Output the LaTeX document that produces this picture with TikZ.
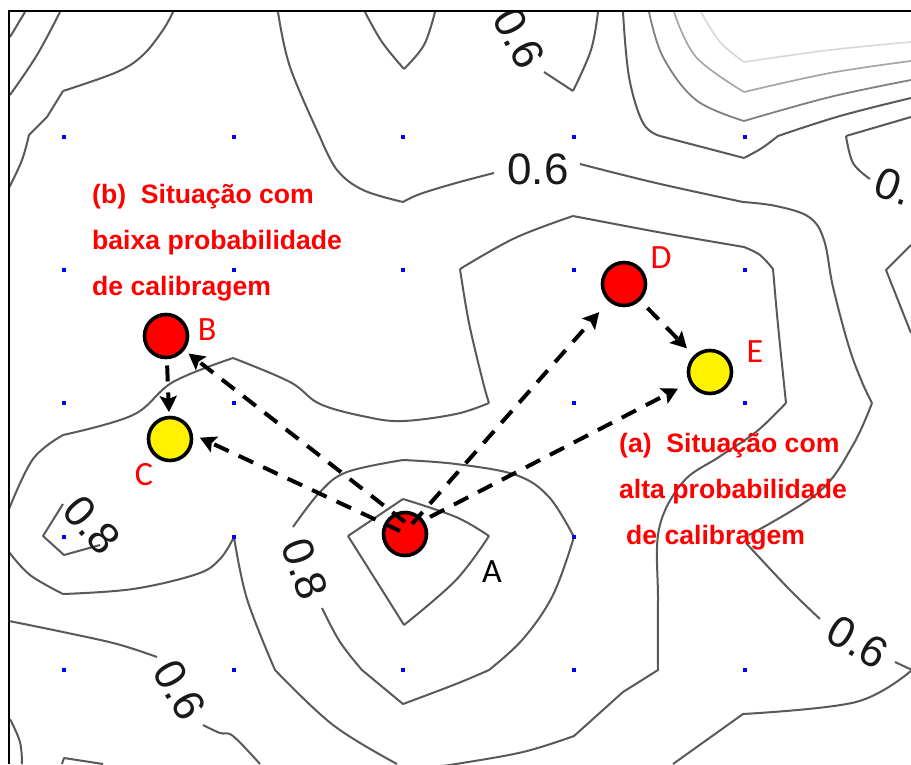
\documentclass[tikz,border=0pt]{standalone}
\usepackage{fontspec}
\setmainfont{Liberation Sans}
\newfontfamily\letterfont{Carlito}
\usetikzlibrary{arrows.meta}
\tikzset{
  x=1pt,y=-1pt,
  sm/.style={smooth,tension=.6},
  con/.style={draw=black!65,line width=2pt,line join=round},
  conb/.style={draw=black!50,line width=1.8pt,line join=round},
  conc/.style={draw=black!35,line width=1.7pt,line join=round},
  cond/.style={draw=black!15,line width=1.7pt,line join=round},
  clabel/.style={font=\fontsize{44}{44}\selectfont,inner sep=0pt,text=black!90},
  griddot/.style={fill=blue,inner sep=0pt,minimum size=3.4pt,shape=rectangle},
  pt/.style={circle,draw=black,line width=3.6pt,minimum size=43pt,inner sep=0pt,outer sep=0pt},
  redpt/.style={pt,fill=red},
  yelpt/.style={pt,fill=yellow},
  dasharrow/.style={draw=black,line width=4pt,dash pattern=on 16pt off 11pt,
    -{Stealth[length=16pt,width=17pt,inset=3pt]}},
  note/.style={font=\fontsize{26.6}{26.6}\selectfont\bfseries,text=red,anchor=base west,inner sep=0pt},
  letter/.style={font=\letterfont\fontsize{34}{34}\selectfont,text=red,anchor=base,inner sep=0pt},
}
\begin{document}
\begin{tikzpicture}
\useasboundingbox (0,0) rectangle (911,764);
\fill[white] (0,0) rectangle (911,764);

\begin{scope}
\clip (9,11) rectangle (911,764);
% top-left contours
\draw[con] plot[sm] coordinates {(10,37) (25,12)};
\draw[con] plot[sm] coordinates {(10,95) (37,55) (60,12)};
\draw[con] plot[sm] coordinates {(9,188) (22,160) (29,135)} -- (47,117) -- (63,91)
  plot[sm] coordinates {(63,91) (117,72) (143,55) (163,30) (173,12)};
% long 0.6 contour
\draw[con] plot[sm] coordinates {(278,12) (290,67) (320,137)}
  plot[sm] coordinates {(320,137) (337,170) (363,190) (403,202)}
  plot[sm] coordinates {(403,202) (420,194) (456,183) (494,173)};
\draw[con] plot[sm] coordinates {(580,164) (656,183) (743,202)}
  plot[sm] coordinates {(743,202) (776,206) (809,217) (824,240) (833,287) (849,347) (862,382) (872,403)}
  plot[sm] coordinates {(872,403) (853,445) (819,492) (749,535)};
\draw[con] plot[sm] coordinates {(746,543) (789,589) (820,619)};
\draw[con] (895,662) -- (912,670);
\draw[con] plot[sm] coordinates {(912,670) (856,702) (743,714)} -- (673,764);
% top lens
\draw[con] plot[sm] coordinates {(365,12) (382,42) (404,69)}
  plot[sm] coordinates {(404,69) (424,45) (435,12)};
% contour under the clipped 0.6
\draw[con] (544,72) -- (573,91) plot[sm] coordinates {(573,91) (591,50) (598,12)};
% top-right family
\draw[con] plot[sm] coordinates {(623,12) (629,77) (643,123) (660,136)}
  -- (744,158) plot[sm] coordinates {(744,158) (762,148) (778,136)}
  plot[sm] coordinates {(778,136) (840,116) (911,98)};
\draw[conb] plot[sm] coordinates {(649,12) (663,57) (696,100) (744,121)}
  plot[sm] coordinates {(744,121) (830,97) (911,80)};
\draw[conc] plot[sm] coordinates {(674,12) (696,57) (744,92)}
  plot[sm] coordinates {(744,92) (830,73) (911,61)};
\draw[cond] plot[sm] coordinates {(701,12) (720,42) (744,62)}
  plot[sm] coordinates {(744,62) (830,50) (911,42)};
% right small
\draw[con] (911,117) -- (846,136) plot[sm] coordinates {(846,136) (853,163) (870,179)};
\draw[con] (911,245) -- (886,270) -- (911,333);
% loop around D
\draw[con] plot[sm] coordinates {(460,269) (515,238) (573,216)}
  plot[sm] coordinates {(573,216) (663,233) (744,247)}
  plot[sm] coordinates {(744,247) (760,255) (773,269)}
  plot[sm] coordinates {(773,269) (778,325) (786,403)}
  plot[sm] coordinates {(786,403) (756,432) (719,457) (683,482) (659,529) (658,600) (658,670)}
  -- (623,692) -- (574,736) plot[sm] coordinates {(574,736) (523,752) (456,764) (440,766)};
\draw[con] plot[sm] coordinates {(460,269) (469,323) (483,382) (489,403)}
  plot[sm] coordinates {(489,403) (456,414) (403,421) (367,417) (320,404) (290,382) (233,358)}
  plot[sm] coordinates {(233,358) (173,382) (133,415) (63,435)}
  plot[sm] coordinates {(63,435) (33,459) (9,509)};
\draw[con] plot[sm] coordinates {(9,552) (30,575) (63,594)}
  plot[sm] coordinates {(63,594) (133,589) (197,574) (220,559) (234,537)}
  plot[sm] coordinates {(234,537) (247,599) (275,670)}
  plot[sm] coordinates {(275,670) (333,725) (397,764)};
% small 0.8 at left
\draw[con] (63,504) -- (43,536) -- (64,555) -- (100,545);
% loop around A
\draw[con] plot[sm] coordinates {(293,527) (320,492) (347,472) (403,460)}
  plot[sm] coordinates {(403,460) (456,464) (516,475) (549,497) (574,537)}
  plot[sm] coordinates {(574,537) (553,595) (523,639) (489,670)}
  plot[sm] coordinates {(489,670) (456,684) (403,704)}
  -- (362,670) plot[sm] coordinates {(362,670) (340,642) (322,608)};
\draw[con] (403,499) -- (348,536) plot[sm] coordinates {(348,536) (377,582) (404,625)};
\draw[con] plot[sm] coordinates {(403,499) (456,517) (489,536)}
  plot[sm] coordinates {(489,536) (456,580) (404,625)};
% lower left
\draw[con] plot[sm] coordinates {(9,621) (63,632) (117,644) (157,657)};
\draw[con] plot[sm] coordinates {(203,725) (220,733) (233,736) (260,764)};
\draw[con] plot[sm] coordinates {(10,719) (20,742) (22,764)};
\draw[con] (62,764) -- (64,758) -- (103,764);
% contour labels
\node[clabel] (l1) at (538,169) {0.6};
\node[clabel,rotate=-62] (l2) at (519,38) {0.6};
\node[clabel,rotate=-30] (l3) at (858,642) {0.6};
\node[clabel,rotate=-60] (l4) at (180,690) {0.6};
\node[clabel,rotate=-70] (l5) at (305,569) {0.8};
\node[clabel,rotate=-48] (l6) at (92,525) {0.8};
\node[clabel,rotate=-20,anchor=west] (l7) at (876,180) {0.};
\end{scope}

% frame
\draw[black,line width=1.8pt] (911,11) -- (9,11) -- (9,764);

% grid dots
\foreach \gx/\gy [count=\gi] in {64/137,234/137,403/137,574/137,745/137,
  64/270,234/270,403/270,574/270,745/270,
  64/403,234/403,574/403,745/403,
  64/537,234/537,574/537,
  64/670,234/670,403/670,574/670,745/670}
  \node[griddot] (dot\gi) at (\gx,\gy) {};

% points
\node[redpt] (A) at (405,534) {};
\node[redpt] (B) at (166,336) {};
\node[yelpt] (C) at (170,439) {};
\node[redpt] (D) at (624,284) {};
\node[yelpt] (E) at (710,372) {};

\coordinate (aB) at (405,522);
\coordinate (aC) at (400,531);
\coordinate (aD) at (412,524);
\coordinate (aE) at (430,517);

\draw[dasharrow,shorten >=7pt] (aB) -- (B);
\draw[dasharrow,shorten >=10pt] (aC) -- (C.15);
\draw[dasharrow,shorten >=16pt] (aD) -- (D);
\draw[dasharrow,shorten >=14.5pt] (aE) -- (E);
\draw[dasharrow,shorten <=12pt,shorten >=11.5pt] (D) -- (E);
\draw[dasharrow,shorten <=8pt,shorten >=5.5pt] (B) -- (C);

% letters
\node[letter] (tA) at (492,582) {\textcolor{black}{A}};
\node[letter] (tB) at (207,340) {B};
\node[letter] (tC) at (144,485) {C};
\node[letter] (tD) at (661,268) {D};
\node[letter] (tE) at (755,362) {E};

% notes
\node[note] (b1) at (92,203) {(b)\ \ Situação com};
\node[note] (b2) at (92,249) {baixa probabilidade};
\node[note] (b3) at (92,295) {de calibragem};
\node[note] (a1) at (619,452) {(a)\ \ Situação com};
\node[note] (a2) at (619,498) {alta probabilidade};
\node[note] (a3) at (626,544) {de calibragem};
\end{tikzpicture}
\end{document}
